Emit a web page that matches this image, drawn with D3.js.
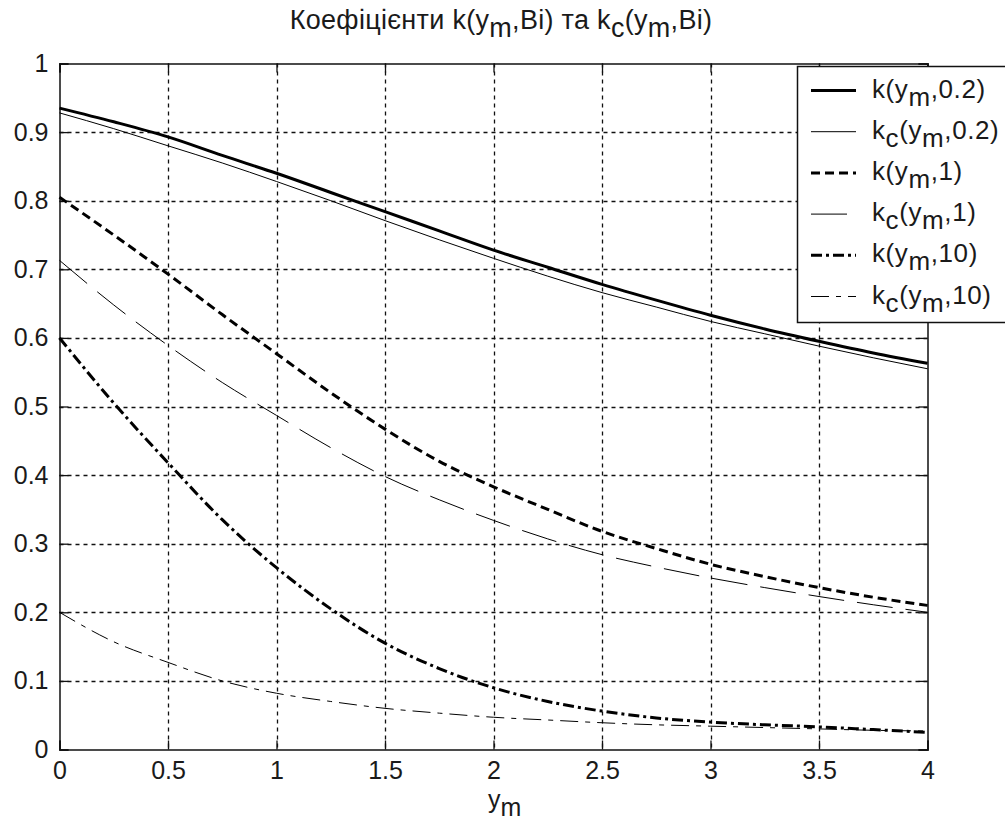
<!DOCTYPE html>
<html>
<head>
<meta charset="utf-8">
<script src="https://cdn.jsdelivr.net/npm/d3@7"></script>
<style>
  html, body { margin: 0; padding: 0; background: #fff; }
  svg { display: block; }
  text { font-family: "Liberation Sans", Arial, sans-serif; fill: #1a1a1a; }
</style>
</head>
<body>
<svg id="chart" width="1005" height="828"></svg>
<script>
// Sample points along y_m
const ym = [0, 0.25, 0.5, 0.75, 1, 1.25, 1.5, 1.75, 2, 2.25, 2.5, 2.75, 3, 3.25, 3.5, 3.75, 4];

// k(y_m, Bi) and k_c(y_m, Bi) for Bi = 0.2, 1, 10
const k_02  = [0.935, 0.915, 0.893, 0.866, 0.840, 0.812, 0.784, 0.756, 0.728, 0.703, 0.678, 0.655, 0.633, 0.613, 0.595, 0.578, 0.563];
const kc_02 = [0.928, 0.905, 0.880, 0.855, 0.828, 0.800, 0.771, 0.743, 0.716, 0.690, 0.666, 0.645, 0.624, 0.606, 0.588, 0.571, 0.555];
const k_1   = [0.805, 0.750, 0.693, 0.634, 0.577, 0.520, 0.467, 0.420, 0.383, 0.350, 0.318, 0.293, 0.270, 0.252, 0.236, 0.222, 0.210];
const kc_1  = [0.713, 0.648, 0.589, 0.535, 0.487, 0.440, 0.398, 0.364, 0.334, 0.307, 0.284, 0.266, 0.250, 0.236, 0.223, 0.211, 0.200];
const k_10  = [0.600, 0.505, 0.418, 0.335, 0.265, 0.205, 0.155, 0.118, 0.090, 0.070, 0.056, 0.046, 0.040, 0.036, 0.033, 0.029, 0.025];
const kc_10 = [0.200, 0.157, 0.127, 0.100, 0.082, 0.070, 0.060, 0.053, 0.047, 0.043, 0.039, 0.036, 0.034, 0.032, 0.030, 0.028, 0.027];

const xTicks = [0, 0.5, 1, 1.5, 2, 2.5, 3, 3.5, 4];
const yTicks = [0, 0.1, 0.2, 0.3, 0.4, 0.5, 0.6, 0.7, 0.8, 0.9, 1];

// Series: Bi label, subscript, line style
const series = [
  { values: k_02,  sub: null, bi: "0.2", width: 3,   dash: null },
  { values: kc_02, sub: "c",  bi: "0.2", width: 1,   dash: null },
  { values: k_1,   sub: null, bi: "1",   width: 3,   dash: "9,5" },
  { values: kc_1,  sub: "c",  bi: "1",   width: 1,   dash: "36,13", legendLen: 36 },
  { values: k_10,  sub: null, bi: "10",  width: 3,   dash: "11,4,3,4" },
  { values: kc_10, sub: "c",  bi: "10",  width: 1,   dash: "18,7,5,7" }
];

const svg = d3.select("#chart");
const L = 59.5, R = 927.5, T = 63.5, B = 749.5;

const x = d3.scaleLinear().domain([0, 4]).range([L, R]);
const y = d3.scaleLinear().domain([0, 1]).range([B, T]);

const fs = 25;

// Dotted grid
const grid = svg.append("g").attr("stroke", "#111").attr("stroke-width", 1.3).attr("stroke-dasharray", "4,4");
grid.selectAll("line.gx").data(xTicks.slice(1, -1)).join("line")
  .attr("x1", d => Math.round(x(d)) + 0.5).attr("x2", d => Math.round(x(d)) + 0.5)
  .attr("y1", T).attr("y2", B);
grid.selectAll("line.gy").data(yTicks.slice(1, -1)).join("line")
  .attr("y1", d => Math.round(y(d)) + 0.5).attr("y2", d => Math.round(y(d)) + 0.5)
  .attr("x1", L).attr("x2", R);

// Axes with inward ticks on all four sides
const tickLen = 9;
const axBottom = d3.axisBottom(x).tickValues(xTicks).tickSize(-tickLen).tickPadding(tickLen + 3).tickFormat(d3.format("~g"));
const axLeft = d3.axisLeft(y).tickValues(yTicks).tickSize(-tickLen).tickPadding(tickLen + 2).tickFormat(d3.format("~g"));
const axTop = d3.axisTop(x).tickValues(xTicks).tickSize(-tickLen).tickFormat("");
const axRight = d3.axisRight(y).tickValues(yTicks).tickSize(-tickLen).tickFormat("");

function styleAxis(g) {
  g.attr("font-size", fs).attr("font-family", "Liberation Sans, Arial, sans-serif");
  g.selectAll("path.domain").attr("stroke", "#111").attr("stroke-width", 1.5);
  g.selectAll(".tick line").attr("stroke", "#111").attr("stroke-width", 1.3);
  g.selectAll("text").attr("fill", "#1a1a1a");
}
svg.append("g").attr("transform", `translate(0,${B})`).call(axBottom).call(styleAxis);
svg.append("g").attr("transform", `translate(${L},0)`).call(axLeft).call(styleAxis);
svg.append("g").attr("transform", `translate(0,${T})`).call(axTop).call(styleAxis);
svg.append("g").attr("transform", `translate(${R},0)`).call(axRight).call(styleAxis);

// Curves
const line = d3.line().x((d, i) => x(ym[i])).y(d => y(d)).curve(d3.curveMonotoneX);
svg.append("g").selectAll("path").data(series).join("path")
  .attr("d", d => line(d.values))
  .attr("fill", "none")
  .attr("stroke", "#000")
  .attr("stroke-width", d => d.width)
  .attr("stroke-dasharray", d => d.dash);

// Helper: text with subscript parts
function label(sel, parts) {
  parts.forEach(p => {
    const t = sel.append("tspan").text(p.t);
    if (p.sub) t.attr("dy", 8);
    if (p.up) t.attr("dy", -8);
  });
}

// Title
const title = svg.append("text").attr("x", 501).attr("y", 29).attr("text-anchor", "middle")
  .attr("font-size", 27).attr("letter-spacing", 0.3);
label(title, [
  { t: "Коефіцієнти k(y" }, { t: "m", sub: true }, { t: ",Bi) та k", up: true },
  { t: "c", sub: true }, { t: "(y", up: true }, { t: "m", sub: true }, { t: ",Bi)", up: true }
]);

// X-axis label
const xl = svg.append("text").attr("x", 488).attr("y", 808).attr("font-size", fs);
label(xl, [{ t: "y" }, { t: "m", sub: true }]);

// Legend
const lg = svg.append("g");
lg.append("rect").attr("x", 797.5).attr("y", 66.5).attr("width", 220).attr("height", 256)
  .attr("fill", "#fff").attr("stroke", "#111").attr("stroke-width", 1.5);
const rowY = i => 90.5 + i * 41.2;
series.forEach((s, i) => {
  const yy = rowY(i);
  lg.append("line").attr("x1", 811).attr("x2", 811 + (s.legendLen || 45)).attr("y1", yy).attr("y2", yy)
    .attr("stroke", "#000").attr("stroke-width", s.width).attr("stroke-dasharray", s.dash);
  const t = lg.append("text").attr("x", 872).attr("y", yy + 7).attr("font-size", 26).attr("letter-spacing", 0.6);
  const parts = [{ t: "k" }];
  if (s.sub) parts.push({ t: s.sub, sub: true }, { t: "(y", up: true });
  else parts.push({ t: "(y" });
  parts.push({ t: "m", sub: true }, { t: "," + s.bi + ")", up: true });
  label(t, parts);
});
</script>
</body>
</html>
